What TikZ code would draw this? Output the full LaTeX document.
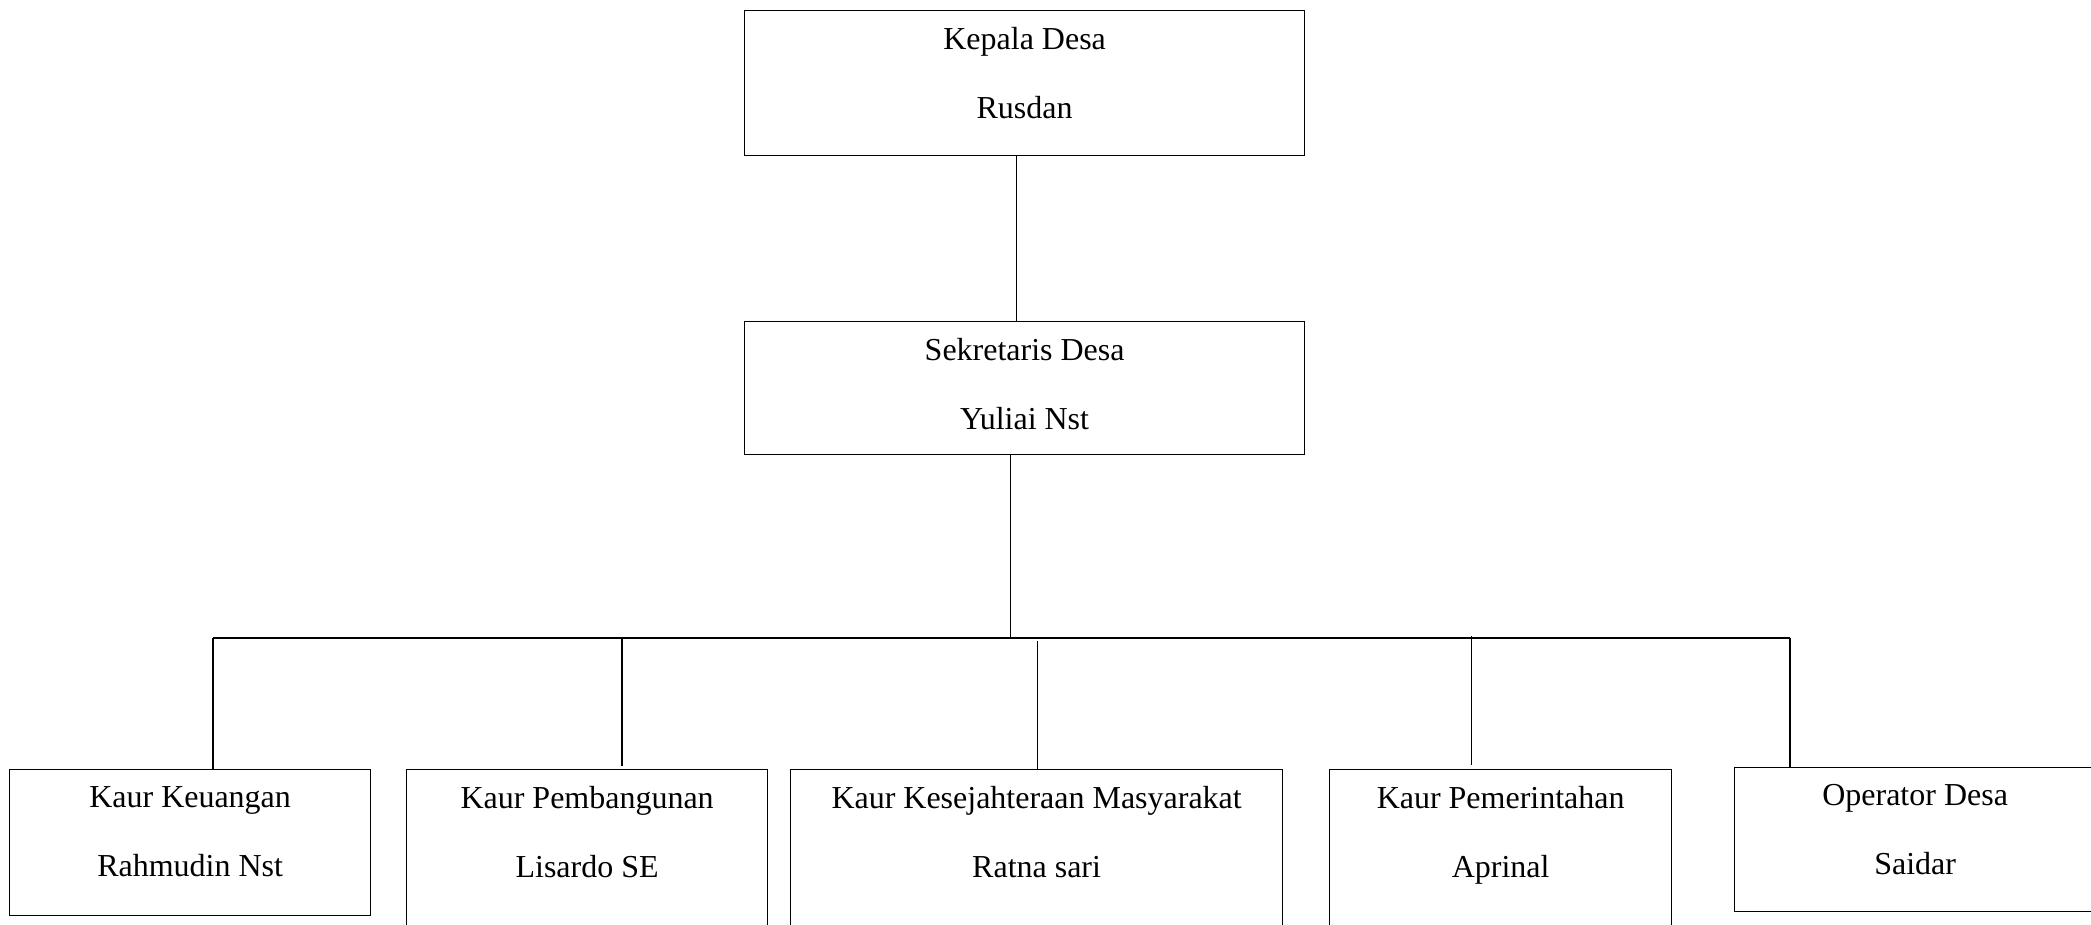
\documentclass[tikz,border=0pt]{standalone}
\usepackage{fontspec}
\setmainfont{Liberation Serif}
\usetikzlibrary{positioning}

\begin{document}
\begin{tikzpicture}[
    unit/.style={draw, line width=0.35pt, anchor=north west, inner sep=0pt},
    title/.style={anchor=north, yshift=-0.17cm, inner sep=0pt, align=center, font=\fontsize{9.1}{19.6}\selectfont},
    link/.style={line width=0.4pt},
    bus/.style={line width=0.6pt}
  ]
  \useasboundingbox (0,0) rectangle (20.91,-9.24);
  \clip (0,0) rectangle (20.91,-9.24);

  \node[unit, minimum width=5.6cm, minimum height=1.45cm, label={[title]north:Kepala Desa\\Rusdan}] (kades) at (7.44,-0.10) {};
  \node[unit, minimum width=5.6cm, minimum height=1.33cm, label={[title]north:Sekretaris Desa\\Yuliai Nst}] (sekdes) at (7.44,-3.21) {};

  \node[unit, minimum width=3.61cm, minimum height=1.46cm, label={[title]north:Kaur Keuangan\\Rahmudin Nst}] (keu) at (0.09,-7.69) {};
  \node[unit, minimum width=3.61cm, minimum height=2cm, label={[title]north:Kaur Pembangunan\\Lisardo SE}] (pemb) at (4.06,-7.69) {};
  \node[unit, minimum width=4.92cm, minimum height=2cm, label={[title]north:Kaur Kesejahteraan Masyarakat\\Ratna sari}] (kesra) at (7.90,-7.69) {};
  \node[unit, minimum width=3.42cm, minimum height=2cm, label={[title]north:Kaur Pemerintahan\\Aprinal}] (pemer) at (13.29,-7.69) {};
  \node[unit, minimum width=3.61cm, minimum height=1.44cm, label={[title]north:Operator Desa\\Saidar}] (ops) at (17.34,-7.67) {};

  \coordinate (busL) at (2.13,-6.38);
  \coordinate (busR) at (17.90,-6.38);

  \draw[link] ([xshift=-0.08cm]kades.south) -- ([xshift=-0.08cm]kades.south |- sekdes.north);
  \draw[link] ([xshift=-0.14cm]sekdes.south) -- ([xshift=-0.14cm]sekdes.south |- busL);
  \draw[bus] (busL) -- (busR);

  \draw[link] (busL) -- (busL |- keu.north);
  \draw[link] ([xshift=0.35cm]pemb.north |- busL) -- ([xshift=0.35cm, yshift=0.03cm]pemb.north);
  \draw[link] ([xshift=0.01cm, yshift=1.28cm]kesra.north) -- ([xshift=0.01cm]kesra.north);
  \draw[link] ([xshift=-0.29cm, yshift=0.02cm]pemer.north |- busL) -- ([xshift=-0.29cm, yshift=0.04cm]pemer.north);
  \draw[link] (busR) -- (busR |- ops.north);

\end{tikzpicture}
\end{document}
